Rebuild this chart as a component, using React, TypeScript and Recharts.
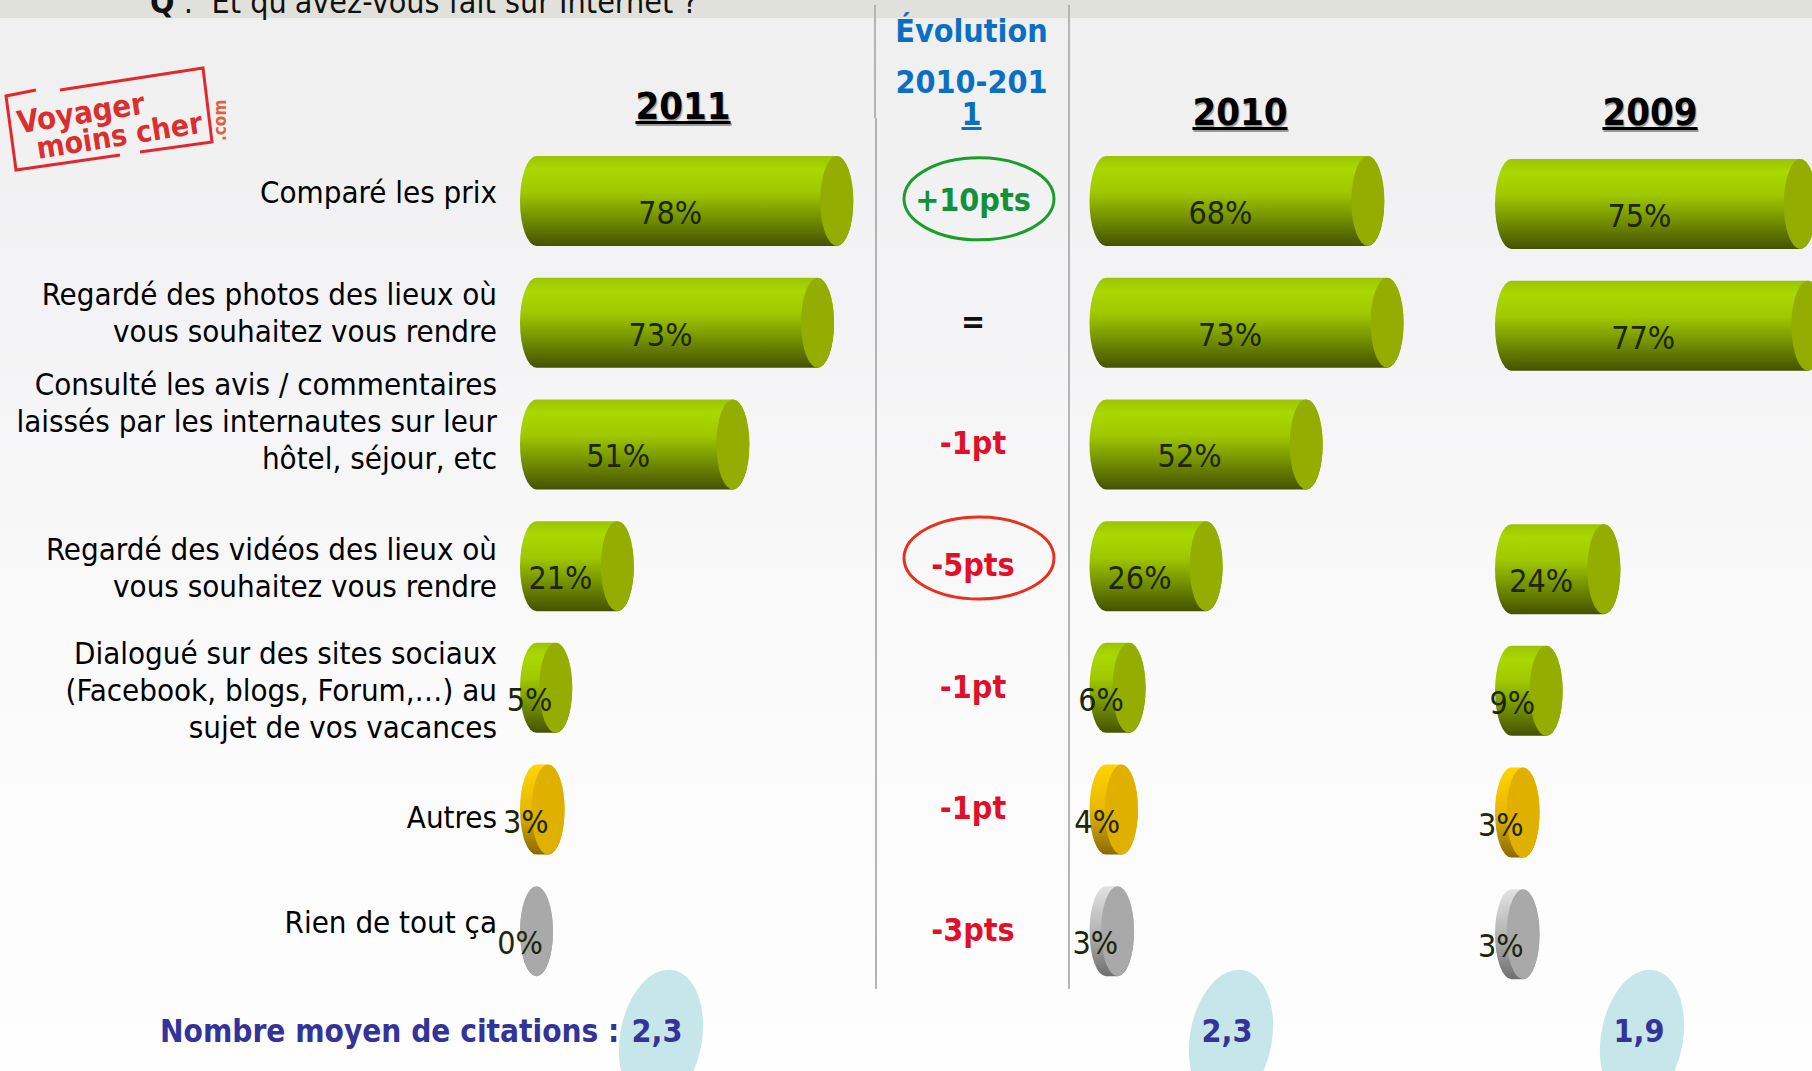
import { Bar, BarChart, LabelList, XAxis, YAxis } from "recharts";

const categories = [
  "Comparé les prix",
  "Regardé des photos des lieux où|vous souhaitez vous rendre",
  "Consulté les avis / commentaires|laissés par les internautes sur leur|hôtel, séjour, etc",
  "Regardé des vidéos des lieux où|vous souhaitez vous rendre",
  "Dialogué sur des sites sociaux|(Facebook, blogs, Forum,…) au|sujet de vos vacances",
  "Autres",
  "Rien de tout ça",
];
const tones = ["green", "green", "green", "green", "green", "yellow", "gray"];
const values2011 = [78, 73, 51, 21, 5, 3, 0];
const values2010 = [68, 73, 52, 26, 6, 4, 3];
const values2009 = [75, 77, null, 24, 9, 3, 3];
const evolution = ["+10pts", "=", "-1pt", "-5pts", "-1pt", "-1pt", "-3pts"];
const meanCitations = ["2,3", "2,3", "1,9"];

const SANS = "'DejaVu Sans Condensed', 'DejaVu Sans', sans-serif";
const CAP_RX = 16.5;
const BAR_HEIGHT = 90;
// the labels on the left do not sit on the bar centres in the original
const labelShift = [-9, -10, -23, 1, 2, 8, -9];

const capColor: Record<string, string> = { green: "#93ad00", yellow: "#e0b000", gray: "#a9a9a9" };

const toRows = (values: (number | null)[]) =>
  categories.map((category, i) => ({ category, value: values[i], tone: tones[i] }));

function Cylinder(props: any) {
  const { x, y, width, height, payload } = props;
  if (payload.value == null) return null;
  const end = x + width;
  const bottom = y + height;
  const ry = height / 2;
  const d = `M${x},${y} A${CAP_RX},${ry} 0 0 0 ${x},${bottom} L${end},${bottom} A${CAP_RX},${ry} 0 0 0 ${end},${y} Z`;
  return (
    <g>
      <path d={d} fill={`url(#body-${payload.tone})`} />
      <ellipse cx={end} cy={y + ry} rx={CAP_RX} ry={ry} fill={capColor[payload.tone]} />
    </g>
  );
}

function PercentLabel(props: any) {
  const { x, y, width, height, value } = props;
  if (value == null) return null;
  return (
    <text
      x={x - CAP_RX + width / 2}
      y={y + height / 2 + 12}
      textAnchor="middle"
      dominantBaseline="central"
      fontFamily={SANS}
      fontSize={32}
      fill="#1c2608"
    >
      {value}%
    </text>
  );
}

function CategoryTick(props: any) {
  const { y, payload, index } = props;
  const lines = String(payload.value).split("|");
  const first = y + labelShift[index] - ((lines.length - 1) * 37) / 2;
  return (
    <g>
      {lines.map((line, i) => (
        <text
          key={line}
          x={497}
          y={first + i * 37}
          textAnchor="end"
          dominantBaseline="central"
          fontFamily={SANS}
          fontSize={31}
          fill="#000"
        >
          {line}
        </text>
      ))}
    </g>
  );
}

function EvolutionTick(props: any) {
  const { y, index } = props;
  const label = evolution[index];
  const ring = label === "+10pts" ? "#1a9e2a" : label === "-5pts" ? "#e8301c" : null;
  const color = label === "=" ? "#111" : label.startsWith("+") ? "#12903a" : "#e0102a";
  return (
    <g>
      {ring && (
        <ellipse
          cx={101}
          cy={label === "-5pts" ? y - 8 : y - 2}
          rx={75}
          ry={41}
          fill="none"
          stroke={ring}
          strokeWidth={3}
        />
      )}
      <text
        x={95}
        y={y - 1}
        textAnchor="middle"
        dominantBaseline="central"
        fontFamily={SANS}
        fontWeight="bold"
        fontSize={32}
        fill={color}
      >
        {label}
      </text>
    </g>
  );
}

function Panel(props: { values: (number | null)[]; left: number; top: number; width: number; axisWidth: number; tick?: any }) {
  const { values, left, top, width, axisWidth, tick } = props;
  return (
    <div style={{ position: "absolute", left, top }}>
      <BarChart
        width={width}
        height={1071}
        data={toRows(values)}
        layout="vertical"
        margin={{ top: 140, bottom: 79, left: tick ? 0 : axisWidth, right: width - axisWidth - 385 }}
        barSize={BAR_HEIGHT}
      >
        <XAxis type="number" domain={[0, 100]} hide />
        <YAxis
          type="category"
          dataKey="category"
          width={tick ? axisWidth : 0}
          hide={!tick}
          interval={0}
          axisLine={false}
          tickLine={false}
          tick={tick}
        />
        <Bar dataKey="value" shape={<Cylinder />} isAnimationActive={false}>
          <LabelList dataKey="value" content={<PercentLabel />} />
        </Bar>
      </BarChart>
    </div>
  );
}

const gradient = (id: string, stops: [number, string][]) => (
  <linearGradient id={id} x1="0" y1="0" x2="0" y2="1">
    {stops.map(([offset, color]) => (
      <stop key={offset} offset={offset} stopColor={color} />
    ))}
  </linearGradient>
);

function Logo() {
  return (
    <svg width={240} height={180} style={{ position: "absolute", left: 0, top: 60 }}>
      <g transform="translate(0,-60)">
        <path
          d="M36,90 L6,96 L16,170 L120,155 M140,152 L212,142 L203,68 L60,90"
          fill="none"
          stroke="#e2282c"
          strokeWidth={3}
        />
        <g transform="rotate(-9 110 120)" fontFamily={SANS} fill="#d9302f" fontWeight="bold">
          <text x={18} y={119} fontSize={31}>
            Voyager
          </text>
          <text x={33} y={147} fontSize={30}>
            moins cher
          </text>
        </g>
        <text
          transform="translate(226,141) rotate(-90)"
          fontFamily={SANS}
          fontSize={17}
          fontWeight="bold"
          fill="#e0603a"
        >
          .com
        </text>
      </g>
    </svg>
  );
}

function Heading(props: { text: string; center: number; y: number }) {
  return (
    <div
      style={{
        position: "absolute",
        left: props.center - 100,
        top: props.y - 25,
        width: 200,
        textAlign: "center",
        fontFamily: SANS,
        fontWeight: "bold",
        fontSize: 38,
        lineHeight: "50px",
        color: "#000",
        textDecoration: "underline",
        textShadow: "1px 2px 1px #999",
      }}
    >
      {props.text}
    </div>
  );
}

function BlueTitle(props: { text: string; y: number; underline?: boolean }) {
  return (
    <div
      style={{
        position: "absolute",
        left: 874,
        top: props.y - 15,
        width: 195,
        height: 30,
        textAlign: "center",
        fontFamily: SANS,
        fontWeight: "bold",
        fontSize: 32,
        lineHeight: "30px",
        color: "#0a6fc2",
        textDecoration: props.underline ? "underline" : "none",
      }}
    >
      {props.text}
    </div>
  );
}

const citationCenters = [661, 1231, 1642];
const citationText = [657, 1227, 1639];

export default function App() {
  return (
    <div
      style={{
        position: "absolute",
        left: 0,
        top: 0,
        width: 1812,
        height: 1071,
        overflow: "hidden",
        background: "linear-gradient(#efefef 0, #f3f3f5 300px, #fafafa 650px, #fefefe 100%)",
      }}
    >
      <div style={{ position: "absolute", left: 0, top: 0, width: 1812, height: 18, background: "#e0e1db" }} />
      <div
        style={{
          position: "absolute",
          left: 150,
          top: -18,
          fontFamily: SANS,
          fontSize: 32,
          lineHeight: "40px",
          whiteSpace: "pre",
          color: "#111",
        }}
      >
        <b>Q</b> :  Et qu'avez-vous fait sur Internet ?
      </div>

      <svg width={0} height={0} style={{ position: "absolute" }}>
        <defs>
          {gradient("body-green", [
            [0, "#9cc400"],
            [0.15, "#aad800"],
            [0.4, "#a0c800"],
            [0.72, "#6f8a00"],
            [1, "#445200"],
          ])}
          {gradient("body-yellow", [
            [0, "#ffd400"],
            [0.5, "#e8b800"],
            [1, "#8a6a00"],
          ])}
          {gradient("body-gray", [
            [0, "#e2e2e2"],
            [0.5, "#b4b4b4"],
            [1, "#6e6e6e"],
          ])}
        </defs>
      </svg>

      <div style={{ position: "absolute", left: 874, top: 5, width: 2, height: 113, background: "#b4b4b4" }} />
      <div style={{ position: "absolute", left: 875, top: 118, width: 2, height: 871, background: "#b4b4b4" }} />
      <div style={{ position: "absolute", left: 1068, top: 5, width: 2, height: 984, background: "#b4b4b4" }} />

      {citationCenters.map((cx) => (
        <svg key={cx} width={120} height={180} style={{ position: "absolute", left: cx - 60, top: 960 }}>
          <ellipse cx={60} cy={78} rx={41} ry={69} transform="rotate(10 60 78)" fill="#c6e6ea" />
        </svg>
      ))}

      <Panel values={values2011} left={0} top={0} width={930} axisWidth={536.5} tick={<CategoryTick />} />
      <Panel values={values2010} left={878} top={0} width={620} axisWidth={228} tick={<EvolutionTick />} />
      <Panel values={values2009} left={1440} top={3} width={470} axisWidth={71.5} />

      <Logo />
      <Heading text="2011" center={683} y={106} />
      <Heading text="2010" center={1240} y={112} />
      <Heading text="2009" center={1650} y={112} />
      <BlueTitle text="Évolution" y={31} />
      <BlueTitle text="2010-201" y={82} />
      <BlueTitle text="1" y={114} underline />

      <div
        style={{
          position: "absolute",
          left: 160,
          top: 1011,
          fontFamily: SANS,
          fontWeight: "bold",
          fontSize: 31.3,
          lineHeight: "40px",
          color: "#333399",
          whiteSpace: "pre",
        }}
      >
        Nombre moyen de citations :
      </div>
      {meanCitations.map((value, i) => (
        <div
          key={citationText[i]}
          style={{
            position: "absolute",
            left: citationText[i] - 50,
            top: 1011,
            width: 100,
            textAlign: "center",
            fontFamily: SANS,
            fontWeight: "bold",
            fontSize: 32,
            lineHeight: "40px",
            color: "#333399",
          }}
        >
          {value}
        </div>
      ))}
    </div>
  );
}
